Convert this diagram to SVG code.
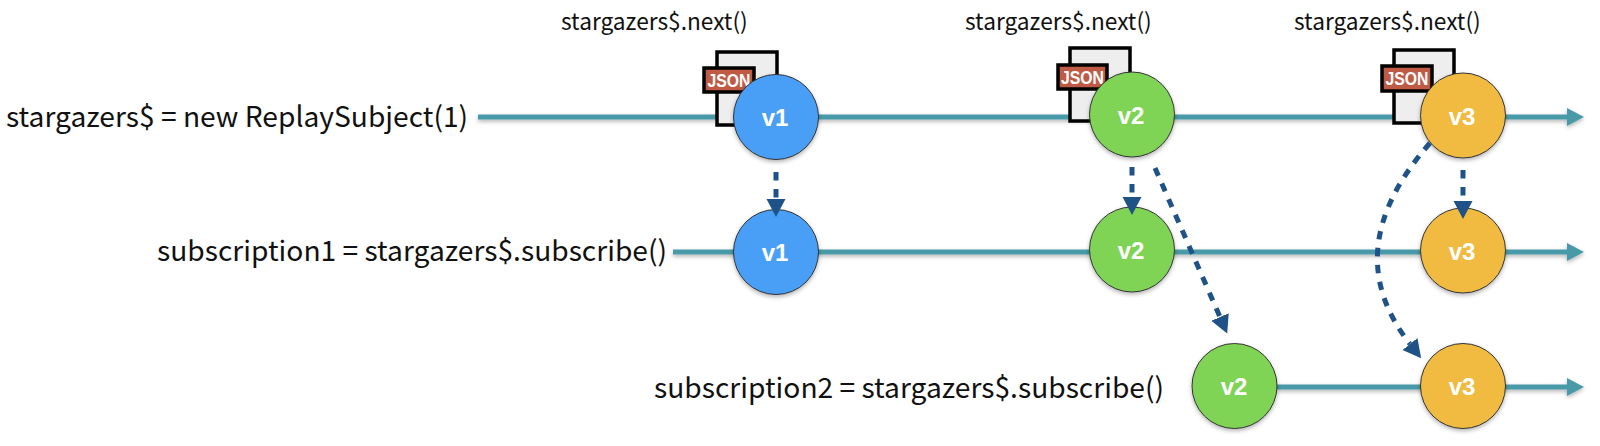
<svg xmlns="http://www.w3.org/2000/svg" width="1600" height="446" viewBox="0 0 1600 446">
<style>
.lbl{font-family:"Noto Sans CJK JP","Noto Sans",sans-serif;fill:#111;font-size:28.200px}
.top{font-family:"Noto Sans CJK JP","Noto Sans",sans-serif;fill:#111;font-size:22.700px}
.tl{stroke:#4a9aa8;stroke-width:5;fill:none;marker-end:url(#th);filter:url(#sh)}
.dash{stroke:#1f5287;stroke-width:5;stroke-dasharray:8.5 8.5;fill:none;marker-end:url(#dh)}
.c{stroke:#333;stroke-width:1;filter:url(#sh)}
.blue{fill:#4a9ff5}.green{fill:#80d455}.yellow{fill:#f0bb40}
.v{font-family:"Liberation Sans",Arial,sans-serif;font-weight:700;font-size:24px;fill:#fff;text-anchor:middle}
.doc{fill:#eee;stroke:#000;stroke-width:3.5}
.tag{fill:#bf5b45;stroke:#000;stroke-width:3.500}
.j{font-family:"Liberation Sans",Arial,sans-serif;font-weight:700;font-size:18px;fill:#fff;text-anchor:middle}
</style>
<defs>
<filter id="sh" filterUnits="userSpaceOnUse" x="0" y="0" width="1600" height="446"><feDropShadow dx="0" dy="2" stdDeviation="2" flood-color="#000" flood-opacity=".3"/></filter>
<marker id="th" markerUnits="userSpaceOnUse" markerWidth="18" markerHeight="20" refX="0" refY="10" orient="auto"><path d="M0 1L17 10L0 19Z" fill="#4a9aa8"/></marker>
<marker id="dh" markerUnits="userSpaceOnUse" markerWidth="19" markerHeight="20" refX="0" refY="10" orient="auto"><path d="M0 0.500L18 10L0 19.500Z" fill="#1f5287"/></marker>
</defs>
<rect width="1600" height="446" fill="#fff"/>
<g id="timelines">
<path class="tl" d="M478 117H1567"/>
<path class="tl" d="M673 252H1567"/>
<path class="tl" d="M1276 387H1567"/>
</g>
<g id="json1"><rect class="doc" x="717" y="52" width="60" height="73"/><rect class="tag" x="704" y="68" width="50" height="24"/><text class="j" x="729" y="86.500" textLength="43" lengthAdjust="spacingAndGlyphs">JSON</text></g>
<g id="json2"><rect class="doc" x="1070" y="48" width="60" height="73"/><rect class="tag" x="1058" y="65" width="49" height="24"/><text class="j" x="1082.500" y="83.500" textLength="43" lengthAdjust="spacingAndGlyphs">JSON</text></g>
<g id="json3"><rect class="doc" x="1394" y="50" width="60" height="73"/><rect class="tag" x="1382" y="66" width="50" height="25"/><text class="j" x="1407" y="85" textLength="43" lengthAdjust="spacingAndGlyphs">JSON</text></g>
<g id="labels">
<text id="label-main" class="lbl" x="6" y="127">stargazers$ = new ReplaySubject(1)</text>
<text id="label-sub1" class="lbl" x="157" y="261">subscription1 = stargazers$.subscribe()</text>
<text id="label-sub2" class="lbl" x="654" y="398">subscription2 = stargazers$.subscribe()</text>
<text id="next1" class="top" x="561" y="30">stargazers$.next()</text>
<text id="next2" class="top" x="965" y="30">stargazers$.next()</text>
<text id="next3" class="top" x="1294" y="30">stargazers$.next()</text>
</g>
<g id="n-v1-a"><circle class="c blue" cx="776" cy="117" r="42.500"/><text class="v" x="775" y="126">v1</text></g>
<g id="n-v2-a"><circle class="c green" cx="1132" cy="114.500" r="42.500"/><text class="v" x="1131" y="123.500">v2</text></g>
<g id="n-v3-a"><circle class="c yellow" cx="1463" cy="115.500" r="42.500"/><text class="v" x="1462" y="124.500">v3</text></g>
<g id="n-v1-b"><circle class="c blue" cx="776" cy="252" r="42.500"/><text class="v" x="775" y="261">v1</text></g>
<g id="n-v2-b"><circle class="c green" cx="1132" cy="249.500" r="42.500"/><text class="v" x="1131" y="258.500">v2</text></g>
<g id="n-v3-b"><circle class="c yellow" cx="1463" cy="250.500" r="42.500"/><text class="v" x="1462" y="259.500">v3</text></g>
<g id="n-v2-c"><circle class="c green" cx="1234.500" cy="386" r="42.500"/><text class="v" x="1234" y="395">v2</text></g>
<g id="n-v3-c"><circle class="c yellow" cx="1463" cy="386" r="42.500"/><text class="v" x="1462" y="395">v3</text></g>
<g id="connectors">
<path class="dash" d="M776 172V199"/>
<path class="dash" d="M1132 167V197"/>
<path class="dash" d="M1463 170V201"/>
<path class="dash" d="M1155 168L1220 317"/>
<path class="dash" d="M1430 143Q1336 250 1410 344"/>
</g>
</svg>
